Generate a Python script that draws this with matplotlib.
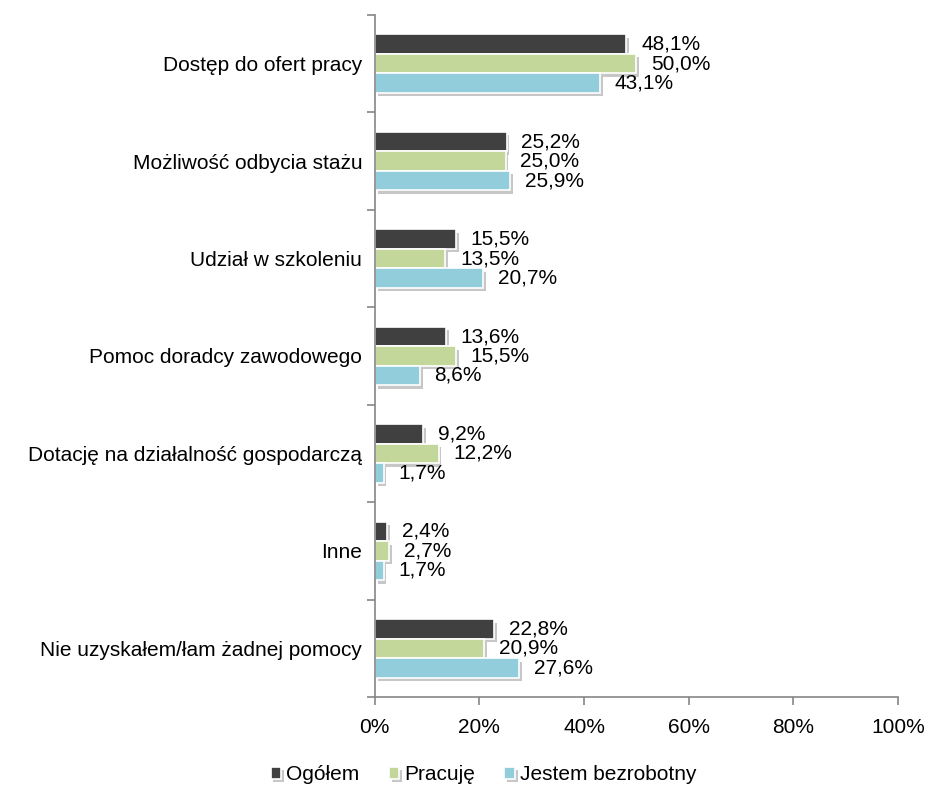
import matplotlib.pyplot as plt
import matplotlib.patheffects as pe
import numpy as np

plt.rcParams['font.family'] = ['Liberation Sans', 'DejaVu Sans']

categories = ['Dostęp do ofert pracy', 'Możliwość odbycia stażu', 'Udział w szkoleniu',
              'Pomoc doradcy zawodowego', 'Dotację na działalność gospodarczą', 'Inne',
              'Nie uzyskałem/łam żadnej pomocy']
ogolem = [48.1, 25.2, 15.5, 13.6, 9.2, 2.4, 22.8]
pracuje = [50.0, 25.0, 13.5, 15.5, 12.2, 2.7, 20.9]
bezrobotny = [43.1, 25.9, 20.7, 8.6, 1.7, 1.7, 27.6]
series_names = ['Ogółem', 'Pracuję', 'Jestem bezrobotny']
colors = ['#404040', '#c4d79b', '#92cddc']

fig = plt.figure(figsize=(9.3, 7.85), dpi=100)
ax = fig.add_axes([0.403, 0.112, 0.5626, 0.869])

n = len(categories)
y = np.arange(n)
h = 0.2
shadow = [pe.SimplePatchShadow(offset=(2, -2.5), shadow_rgbFace='#b0b0b0', alpha=0.7), pe.Normal()]

for i, (vals, col, name) in enumerate(zip([ogolem, pracuje, bezrobotny], colors, series_names)):
    pos = y + (i - 1) * h
    ax.barh(pos, vals, height=h, color=col, edgecolor='white', linewidth=1.2,
            label=name, path_effects=shadow)
    for p, v in zip(pos, vals):
        ax.text(v + 2.8, p, f'{v:.1f}%'.replace('.', ','), va='center', ha='left', fontsize=15)

ax.set_xlim(0, 100)
ax.set_ylim(n - 0.5, -0.5)
ax.set_xticks(range(0, 101, 20))
ax.set_xticklabels([f'{t}%' for t in range(0, 101, 20)], fontsize=15)
ax.set_yticks(y)
ax.set_yticklabels(categories, fontsize=15)
ax.set_yticks(np.arange(n + 1) - 0.5, minor=True)
ax.tick_params(axis='y', which='major', length=0, pad=9)
ax.tick_params(axis='y', which='minor', length=6, color='#868686', width=1.2)
ax.tick_params(axis='x', length=6, color='#868686', width=1.2, pad=9)

for s in ['top', 'right']:
    ax.spines[s].set_visible(False)
for s in ['left', 'bottom']:
    ax.spines[s].set_color('#868686')
    ax.spines[s].set_linewidth(1.2)

fig.legend(loc='center', bbox_to_anchor=(0.52, 0.013), ncol=3, frameon=False, fontsize=15,
           handlelength=0.5, handleheight=0.5, handletextpad=0.25, columnspacing=1.4)

fig.savefig('out.png', dpi=100)
